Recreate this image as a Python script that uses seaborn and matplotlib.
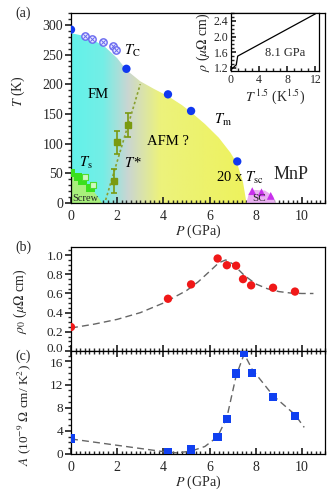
import numpy as np
import pandas as pd
import matplotlib
matplotlib.use("Agg")
import matplotlib.pyplot as plt
import seaborn as sns
from matplotlib.patches import Polygon
from matplotlib.colors import LinearSegmentedColormap
from matplotlib.ticker import MultipleLocator
from matplotlib.transforms import ScaledTranslation

# ---------------- data ----------------
# panel (a)
tc_p = [0.0, 2.4, 4.2, 5.2, 7.2]
tc_t = [292, 226, 183, 155, 70]
tc_open_p = [0.6, 0.9, 1.4, 1.8, 1.95]
tc_open_t = [282, 277, 271, 264, 257]
ts_p = [0.0, 0.3, 0.5, 0.85]
ts_t = [51, 44, 38, 25]
ts_open_p = [0.62, 0.95]
ts_open_t = [43, 30]
tstar_p = [1.85, 2.0, 2.45]
tstar_t = [37, 102, 131]
tstar_err = [20, 20, 20]
tstar_line_p = [1.5, 3.0]
tstar_line_t = [5, 200]
tsc_p = [7.85, 8.25, 8.65]
tsc_t = [20, 18, 12]
bound_p = [0.0, 0.5, 1.0, 1.5, 2.0, 2.4, 3.0, 3.6, 4.2, 4.8, 5.2, 5.8, 6.4, 6.9, 7.2, 7.45, 7.6]
bound_t = [286, 282, 274, 262, 244, 224, 205, 192, 180, 165, 153, 133, 110, 85, 66, 35, 0]
screw_p = [0.0, 0.0, 0.3, 0.55, 0.85, 1.1, 1.35]
screw_t = [0, 50, 44, 38, 25, 14, 0]
sc_p = [7.6, 7.7, 7.95, 8.4, 8.75, 8.85]
sc_t = [0, 16, 22, 21, 12, 0]
# inset
ins_x = [0.05, 0.75, 0.75, 0.95, 12.0]
ins_y = [1.16, 1.16, 1.40, 1.50, 2.58]
# panel (b)
rho_p = [0.0, 4.2, 5.2, 6.35, 6.75, 7.15, 7.45, 7.8, 8.75, 9.7]
rho_v = [0.25, 0.545, 0.695, 0.965, 0.895, 0.89, 0.75, 0.685, 0.66, 0.62]
rho_fit_p = [0.0, 1.0, 2.0, 3.0, 4.0, 5.0, 5.5, 6.0, 6.4, 6.7, 7.0, 7.5, 8.0, 8.5, 9.0, 9.5, 10.0, 10.5]
rho_fit_v = [0.24, 0.28, 0.33, 0.40, 0.50, 0.63, 0.72, 0.83, 0.92, 0.95, 0.91, 0.79, 0.70, 0.65, 0.62, 0.605, 0.60, 0.60]
# panel (c)
a_p = [0.0, 4.2, 5.2, 6.35, 6.75, 7.15, 7.5, 7.85, 8.75, 9.7]
a_v = [2.7, 0.3, 0.8, 2.9, 6.0, 13.9, 17.4, 14.0, 9.9, 6.6]
a_fit_p = [0.0, 4.2, 4.6, 5.2, 5.8, 6.35, 6.75, 7.15, 7.5, 7.85, 8.75, 9.7, 10.1]
a_fit_v = [2.6, 0.3, 0.2, 0.5, 1.3, 3.0, 6.3, 13.5, 17.3, 14.6, 10.1, 6.8, 4.6]

# ---------------- style ----------------
sns.set_theme(style="ticks")
plt.rcParams['font.family'] = ['Liberation Serif', 'DejaVu Serif']
plt.rcParams['mathtext.fontset'] = 'stix'
plt.rcParams['axes.linewidth'] = 0.9
FS = 10
FSB = 9.5

fig = plt.figure(figsize=(3.33, 5.0), dpi=100)
L, W = 71/333, 254/333
axa = fig.add_axes([L, 1-203/500, W, 190/500])
axb = fig.add_axes([L, 1-351/500, W, 104/500])
axc = fig.add_axes([L, 1-454/500, W, 103/500])
axi = fig.add_axes([231/333, 1-71/500, 88/333, 58/500])

for ax in (axa, axb, axc, axi):
    ax.set_facecolor('white')
    for s in ax.spines.values():
        s.set_color('black')

# ---------------- panel (a) ----------------
ax = axa
ax.set_xlim(0, 11)
ax.set_ylim(0, 320)
cmap = LinearSegmentedColormap.from_list(
    'fmafm', [(0.0, '#62f2ea'), (0.18, '#74eee6'), (0.32, '#cad6d2'),
              (0.5, '#ecf27c'), (1.0, '#eef25c')])
grad = np.linspace(0, 1, 256).reshape(1, -1)
im = ax.imshow(grad, extent=(0, 7.7, 0, 300), aspect='auto', cmap=cmap,
               origin='lower', zorder=0.5)
poly = Polygon(np.column_stack([bound_p + [0.0], bound_t + [0]]), closed=True,
               transform=ax.transData, facecolor='none', edgecolor='none')
ax.add_patch(poly)
im.set_clip_path(poly)
ax.fill(screw_p, screw_t, color='#a8f07c', zorder=0.7, lw=0)
ax.fill(sc_p, sc_t, color='#eab0f2', zorder=0.7, lw=0)

sns.lineplot(x=tstar_line_p, y=tstar_line_t, ax=ax, color='#8aa030',
             linestyle=(0, (1.5, 1.5)), lw=1.2, zorder=2)
sns.scatterplot(x=tc_p, y=tc_t, ax=ax, color='#1038f0', s=36, marker='o',
                edgecolor='none', zorder=3)
ax.scatter(tc_open_p, tc_open_t, s=28, marker='o', facecolors='#e8e8ff',
           edgecolors='#6a6af0', linewidths=1.0, zorder=3)
ax.scatter(tc_open_p, tc_open_t, s=10, marker='x', color='#6a6af0',
           linewidths=0.7, zorder=4)
sns.scatterplot(x=ts_p, y=ts_t, ax=ax, color='#3ae01c', s=36, marker='s',
                edgecolor='none', zorder=3)
ax.scatter(ts_open_p, ts_open_t, s=24, marker='s', facecolors='#d0f8c0',
           edgecolors='#50dc30', linewidths=0.8, zorder=3)
ax.errorbar(tstar_p, tstar_t, yerr=tstar_err, fmt='s', color='#7a9a10',
            ms=4.5, capsize=2.5, elinewidth=1.2, capthick=1.2, zorder=3)
sns.scatterplot(x=tsc_p, y=tsc_t, ax=ax, color='#c830ec', s=32, marker='^',
                edgecolor='none', zorder=3)

tk = dict(fontsize=10.5, color='black', zorder=5)
ax.text(2.3, 250, r'$T_{\rm C}$', **tk)
ax.text(0.7, 176, 'FM', **tk)
ax.text(6.2, 134, r'$T_{\rm m}$', **tk)
ax.text(3.3, 97, 'AFM ?', **tk)
ax.text(0.35, 60, r'$T_{\rm s}$', **tk)
ax.text(2.3, 60, r'$T\,$*', **tk)
ax.text(0.05, 4, 'Screw', fontsize=7.5, zorder=5)
ax.text(6.3, 36, r'20 x $T_{\rm sc}$', **tk)
ax.text(8.75, 40, 'MnP', fontsize=13, zorder=5)
ax.text(7.85, 3, 'SC', fontsize=8, zorder=5)

ax.set_xticks([0, 2, 4, 6, 8, 10])
ax.xaxis.set_minor_locator(MultipleLocator(0.2))
ax.set_yticks([0, 50, 100, 150, 200, 250, 300])
ax.yaxis.set_minor_locator(MultipleLocator(10))
ax.tick_params(axis='x', which='both', direction='in', bottom=True, top=False,
               labelsize=FS, pad=5)
ax.tick_params(axis='x', which='major', length=4.5)
ax.tick_params(axis='x', which='minor', length=2.5)
ax.tick_params(axis='y', which='both', direction='out', left=True,
               labelsize=FS, pad=1.5)
ax.tick_params(axis='y', which='major', length=4)
ax.tick_params(axis='y', which='minor', length=2.2)
ax.set_xlabel(r'$P$ (GPa)', fontsize=FS, labelpad=0)
ax.set_ylabel(r'$T$ (K)', fontsize=FS)
ax.yaxis.set_label_coords(-0.175, 0.59)

# ---------------- inset ----------------
ax = axi
sns.lineplot(x=ins_x, y=ins_y, ax=ax, color='black', lw=0.9, sort=False)
ax.set_xlim(0, 12.5)
ax.set_ylim(1.12, 2.6)
ax.set_xticks([0, 4, 8, 12])
ax.xaxis.set_minor_locator(MultipleLocator(1))
ax.set_yticks([1.2, 1.6, 2.0, 2.4])
ax.yaxis.set_minor_locator(MultipleLocator(0.1))
ax.tick_params(which='both', direction='in', labelsize=8.5, pad=2)
ax.tick_params(which='major', length=3.5)
ax.tick_params(which='minor', length=2)
ax.text(4.9, 1.5, '8.1 GPa', fontsize=9)
ax.set_xlabel(r'$T^{\,1.5}$ (K$^{1.5}$)', fontsize=FS, labelpad=1)
ax.set_ylabel(r'$\rho$ ($\mu\Omega$ cm)', fontsize=FS, labelpad=1)

# ---------------- panel (b) ----------------
ax = axb
sns.lineplot(x=rho_fit_p, y=rho_fit_v, ax=ax, color='#666666', lw=1.0,
             linestyle=(0, (5, 3)), sort=False, zorder=2)
sns.scatterplot(x=rho_p, y=rho_v, ax=ax, color='#f01818', s=36, marker='o',
                edgecolor='none', zorder=3)
ax.set_xlim(0, 11)
ax.set_ylim(0, 1.085)
ax.set_xticks([0, 2, 4, 6, 8, 10])
ax.xaxis.set_minor_locator(MultipleLocator(0.2))
ax.set_xticklabels([])
ax.set_yticks([0.0, 0.2, 0.4, 0.6, 0.8, 1.0])
ax.set_yticklabels(['0.0', '0.2', '0.4', '0.6', '0.8', '1.0'])
ax.yaxis.set_minor_locator(MultipleLocator(0.05))
ax.tick_params(axis='x', which='both', direction='in', labelbottom=False)
ax.tick_params(axis='x', which='major', length=4.5)
ax.tick_params(axis='x', which='minor', length=2.5)
ax.tick_params(axis='y', which='both', direction='out', labelsize=FSB, pad=1.5)
ax.tick_params(axis='y', which='major', length=4)
ax.tick_params(axis='y', which='minor', length=2.2)
ax.set_ylabel(r'$\rho_0$ ($\mu\Omega$ cm)', fontsize=FS)
ax.yaxis.set_label_coords(-0.165, 0.48)
lbl0 = ax.get_yticklabels()[0]
lbl0.set_transform(lbl0.get_transform() + ScaledTranslation(0, 3/100, fig.dpi_scale_trans))

# ---------------- panel (c) ----------------
ax = axc
sns.lineplot(x=a_fit_p, y=a_fit_v, ax=ax, color='#666666', lw=1.0,
             linestyle=(0, (5, 3)), sort=False, zorder=2)
sns.scatterplot(x=a_p, y=a_v, ax=ax, color='#1040f0', s=36, marker='s',
                edgecolor='none', zorder=3)
ax.set_xlim(0, 11)
ax.set_ylim(0, 17.8)
ax.set_xticks([0, 2, 4, 6, 8, 10])
ax.xaxis.set_minor_locator(MultipleLocator(0.2))
ax.set_yticks([0, 4, 8, 12, 16])
ax.set_yticklabels(['0', '4', '8', '12', '16'])
ax.yaxis.set_minor_locator(MultipleLocator(1))
ax.tick_params(axis='x', which='both', direction='in', top=True,
               labelsize=FS, pad=5)
ax.tick_params(axis='x', which='major', length=4.5)
ax.tick_params(axis='x', which='minor', length=2.5)
ax.tick_params(axis='y', which='both', direction='out', labelsize=FSB, pad=1.5)
ax.tick_params(axis='y', which='major', length=4)
ax.tick_params(axis='y', which='minor', length=2.2)
ax.set_xlabel(r'$P$ (GPa)', fontsize=FS, labelpad=0)
ax.set_ylabel(r'$A$ (10$^{-9}$ $\Omega$ cm/ K$^2$)', fontsize=9.5)
ax.yaxis.set_label_coords(-0.15, 0.38)
lbl16 = ax.get_yticklabels()[-1]
lbl16.set_transform(lbl16.get_transform() + ScaledTranslation(0, -1.5/100, fig.dpi_scale_trans))

for a in (axa, axb, axc, axi):
    sns.despine(ax=a, top=False, right=False)
    if a.get_legend() is not None:
        a.get_legend().remove()

fig.text(15/333, 1-13/500, '(a)', fontsize=FS, ha='left', va='center')
fig.text(15/333, 1-247/500, '(b)', fontsize=FS, ha='left', va='center')
fig.text(15/333, 1-356/500, '(c)', fontsize=FS, ha='left', va='center')

fig.savefig('out.png', dpi=100)
